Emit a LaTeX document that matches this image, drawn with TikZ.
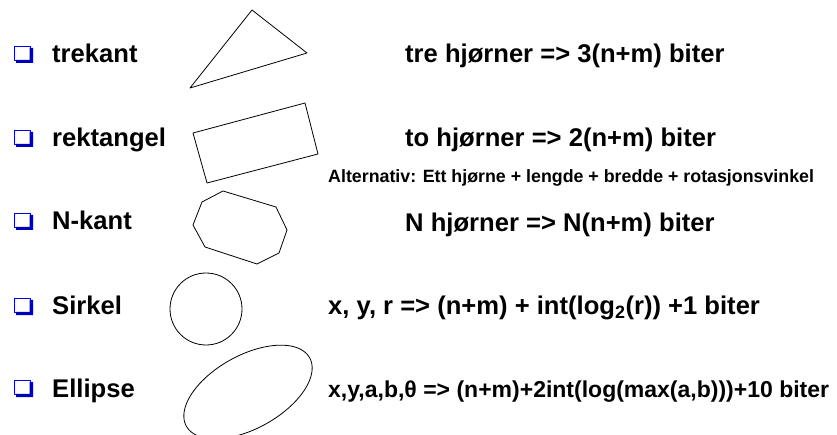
\documentclass[tikz,border=0pt]{standalone}
\usepackage{fontspec}
\setmainfont{Liberation Sans}
\colorlet{boksblaa}{blue!90!black}
\begin{document}
\begin{tikzpicture}[x=1pt,y=-1pt,line join=round]
\useasboundingbox (0,0) rectangle (837,435);
\tikzset{stor/.style={font=\bfseries\fontsize{25.6}{30}\selectfont,inner sep=0pt,anchor=base west},
  liten/.style={font=\bfseries\fontsize{17.8}{21}\selectfont,inner sep=0pt,anchor=base west},
  figur/.style={draw,line width=0.8pt}}
% punktliste med blaa bokser
\foreach \y/\navn/\tekst in {63/trekant/trekant,147/rektangel/rektangel,230/nkant/N-kant,315/sirkel/Sirkel,397/ellipse/Ellipse}{
  \draw[boksblaa,line width=0.8pt] (14,\y-17) rectangle (30,\y-2.5);
  \fill[boksblaa!80!black] (16,\y-3.2) rectangle (33,\y) (29.6,\y-15) rectangle (33,\y);
  \node[stor] (\navn) at (52,\y) {\tekst};
}
% figurene
\draw[figur] (252,10) -- (307,53) -- (190,88) -- cycle;
\draw[figur] (193,133) -- (305,103) -- (318,154) -- (207,183) -- cycle;
\draw[figur] (223,191) -- (276,207) -- (287,230) -- (279,253) -- (257,264) -- (205,247) -- (193,225) -- (202,202) -- cycle;
\draw[figur] (206,309) circle[radius=36];
\draw[figur] plot[domain=0:360,samples=121] ({248+70.5*cos(\x)*cos(29)+36.6*sin(\x)*sin(29)},{392-70.5*cos(\x)*sin(29)+36.6*sin(\x)*cos(29)}) -- cycle;
% antall biter
\node[stor] (trebit) at (405,63) {tre hjørner => 3(n+m) biter};
\node[stor] (tobit) at (405,147) {to hjørner => 2(n+m) biter};
\node[liten] (alt) at (328,183) {Alternativ: Ett hjørne + lengde + bredde + rotasjonsvinkel};
\node[stor] (nbit) at (405,232) {N hjørner => N(n+m) biter};
\node[stor] (sbit) at (328,315) {x, y, r => (n+m) + int(log\textsubscript{2}(r)) +1 biter};
\node[stor,font=\bfseries\fontsize{23}{27}\selectfont] (ebit) at (328,397) {x,y,a,b,θ => (n+m)+2int(log(max(a,b)))+10 biter};
\end{tikzpicture}
\end{document}
